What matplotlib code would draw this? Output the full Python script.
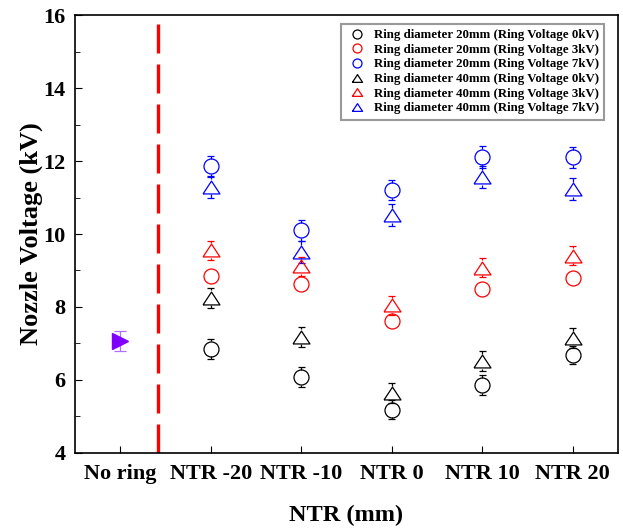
import matplotlib.pyplot as plt
import numpy as np

plt.rcParams['font.family'] = ['Liberation Serif', 'DejaVu Serif']
plt.rcParams['font.weight'] = 'bold'

# categorías del eje x
categorias = ['No ring', 'NTR -20', 'NTR -10', 'NTR 0', 'NTR 10', 'NTR 20']

# sin anillo
v_noring = 7.07
e_noring = 0.28

# series (NTR -20 ... NTR 20)
series = [
    ('Ring diameter 20mm (Ring Voltage 0kV)', 'o', 'black',
     [6.85, 6.08, 5.18, 5.86, 6.68], [0.27, 0.27, 0.26, 0.27, 0.25]),
    ('Ring diameter 20mm (Ring Voltage 3kV)', 'o', 'red',
     [8.86, 8.62, 7.62, 8.50, 8.80], [0.15, 0.15, 0.15, 0.15, 0.15]),
    ('Ring diameter 20mm (Ring Voltage 7kV)', 'o', 'blue',
     [11.85, 10.10, 11.20, 12.12, 12.10], [0.28, 0.28, 0.28, 0.30, 0.28]),
    ('Ring diameter 40mm (Ring Voltage 0kV)', '^', 'black',
     [8.25, 7.18, 5.64, 6.52, 7.15], [0.28, 0.28, 0.28, 0.28, 0.28]),
    ('Ring diameter 40mm (Ring Voltage 3kV)', '^', 'red',
     [9.56, 9.12, 8.05, 9.07, 9.40], [0.26, 0.26, 0.26, 0.26, 0.26]),
    ('Ring diameter 40mm (Ring Voltage 7kV)', '^', 'blue',
     [11.30, 9.50, 10.52, 11.56, 11.23], [0.30, 0.30, 0.30, 0.30, 0.30]),
]

# triángulo algo achatado, como en Origin
tri = [(-1, -0.76), (1, -0.76), (0, 0.76), (-1, -0.76)]

fig = plt.figure(figsize=(6.23, 5.29), dpi=100)
ax = fig.add_axes([0.1204, 0.1437, 0.8716, 0.8279])

ymin, ymax = 4, 16
ax.set_xlim(-0.5, 5.5)
ax.set_ylim(ymin, ymax)

# medio tamaño del marcador en unidades de datos (~7.5 px)
alto_px = 0.8279 * 529
h = 7.5 * (ymax - ymin) / alto_px
cw = 0.04

xx = np.arange(1, 6)
for label, mk, col, vals, errs in series:
    vals = np.array(vals)
    errs = np.array(errs)
    if mk == '^':
        ax.plot(xx, vals, ls='none', marker=tri, ms=12.2, mfc='none', mec=col,
                mew=0.9, label=label, zorder=3)
    else:
        ax.plot(xx, vals, ls='none', marker='o', ms=10.8, mfc='none', mec=col,
                mew=0.9, label=label, zorder=3)
    for x, v, e in zip(xx, vals, errs):
        if e > h:
            ax.vlines(x, v + h, v + e, color=col, lw=0.9)
            ax.vlines(x, v - e, v - h, color=col, lw=0.9)
            ax.hlines([v + e, v - e], x - cw, x + cw, color=col, lw=0.9)

# sin anillo
ax.errorbar([0], [v_noring], yerr=[e_noring], fmt='>', ms=11, color='#8000ff',
            ecolor='#b070ff', elinewidth=0.9, capsize=4, capthick=0.9, zorder=3)

ax.axvline(0.42, color='red', ls=(0, (8.7, 3.3)), lw=2.4)

ax.set_xticks(range(len(categorias)))
ax.set_xticklabels(categorias)
ax.set_yticks(np.arange(4, 17, 2))
ax.set_yticks(np.arange(5, 16, 2), minor=True)
ax.tick_params(axis='both', which='major', direction='in', length=5, labelsize=16)
ax.tick_params(axis='y', which='minor', direction='in', length=3.5)
ax.tick_params(axis='x', pad=8)
ax.tick_params(axis='y', pad=7)
for s in ax.spines.values():
    s.set_linewidth(1.2)

ax.set_xlabel('NTR (mm)', fontsize=17.5, fontweight='bold', labelpad=15)
ax.set_ylabel('Nozzle Voltage (kV)', fontsize=19, fontweight='bold', labelpad=0)

leg = ax.legend(loc='upper right', bbox_to_anchor=(0.974, 0.9795),
                borderaxespad=0, fontsize=9.3, markerscale=0.6, frameon=True,
                fancybox=False, edgecolor='gray', handletextpad=0.5,
                labelspacing=0.2, handlelength=1.6)
leg.get_frame().set_linewidth(1.5)

fig.savefig('out.png', dpi=100)
